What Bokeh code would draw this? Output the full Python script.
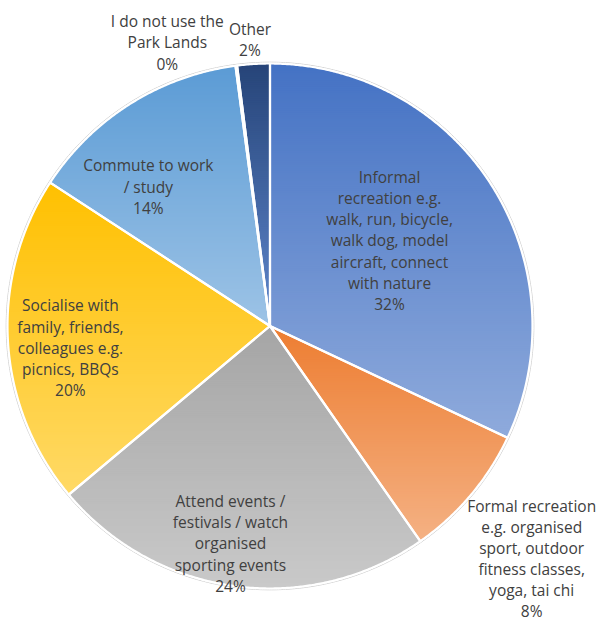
import colorsys
import numpy as np
from bokeh.plotting import figure
from bokeh.models import Range1d, ColumnDataSource
from bokeh.core.properties import value
from bokeh.embed import file_html
from bokeh.resources import INLINE

# ---------------- data ----------------
categories = [
    "Informal\nrecreation e.g.\nwalk, run, bicycle,\nwalk dog, model\naircraft, connect\nwith nature",
    "Formal recreation\ne.g. organised\nsport, outdoor\nfitness classes,\nyoga, tai chi",
    "Attend events /\nfestivals / watch\norganised\nsporting events",
    "Socialise with\nfamily, friends,\ncolleagues e.g.\npicnics, BBQs",
    "Commute to work\n/ study",
    "I do not use the\nPark Lands",
    "Other",
]
shares = [32.0, 8.3, 23.6, 20.3, 13.7, 0.1, 2.0]
base_colors = ["#4472C4", "#ED7D31", "#A5A5A5", "#FFC000", "#5B9BD5", "#70AD47", "#264478"]

# label layout (angle clockwise from 12 o'clock, distance as fraction of radius)
label_angle_deg = [54.4, 131.6, 190.3, 263.8, 318.9, 340.1, 356.0]
label_radius_frac = [0.56, 1.333, 0.842, 0.765, 0.705, 1.149, 1.094]

# ---------------- geometry helpers ----------------
R = 262.5
W, H = 600, 621
x0_px, y0_px = 269.5, 325.5  # pie centre position inside the frame (px)


def hex_to_rgb(h):
    h = h.lstrip("#")
    return tuple(int(h[i:i + 2], 16) / 255 for i in (0, 2, 4))


def rgb_to_hex(c):
    return "#%02x%02x%02x" % tuple(int(round(max(0, min(1, v)) * 255)) for v in c)


def tint(c, amount=0.4):
    h, l, s = colorsys.rgb_to_hls(*c)
    return colorsys.hls_to_rgb(h, l + amount * (1 - l), s)


def clip(poly, yc, keep_above):
    out = []
    n = len(poly)
    for i in range(n):
        cx_, cy_ = poly[i]
        px_, py_ = poly[i - 1]
        cin = cy_ >= yc if keep_above else cy_ <= yc
        pin = py_ >= yc if keep_above else py_ <= yc
        if cin:
            if not pin:
                t = (yc - py_) / (cy_ - py_)
                out.append((px_ + t * (cx_ - px_), yc))
            out.append((cx_, cy_))
        elif pin:
            t = (yc - py_) / (cy_ - py_)
            out.append((px_ + t * (cx_ - px_), yc))
    return out


total = sum(shares)
fracs = [s / total for s in shares]
cum = np.concatenate([[0], np.cumsum(fracs)])

band_xs, band_ys, band_cols = [], [], []
out_xs, out_ys = [], []
for i, f in enumerate(fracs):
    a0 = np.pi / 2 - 2 * np.pi * cum[i]
    a1 = np.pi / 2 - 2 * np.pi * cum[i + 1]
    n = max(3, int(abs(a1 - a0) * 180 / np.pi * 3))
    ang = np.linspace(a0, a1, n)
    poly = [(0.0, 0.0)] + [(R * np.cos(a), R * np.sin(a)) for a in ang]
    out_xs.append([p[0] for p in poly])
    out_ys.append([p[1] for p in poly])
    ys = [p[1] for p in poly]
    ymin, ymax = min(ys), max(ys)
    c_top = hex_to_rgb(base_colors[i])
    c_bot = tint(c_top, 0.4)
    step = 2.0
    yb = ymax
    while yb > ymin:
        ya = max(ymin, yb - step)
        piece = clip(clip(poly, ya, True), yb + 0.7, False)
        if len(piece) >= 3:
            t = (ymax - (ya + yb) / 2) / (ymax - ymin if ymax > ymin else 1)
            col = tuple(c_top[k] + t * (c_bot[k] - c_top[k]) for k in range(3))
            band_xs.append([p[0] for p in piece])
            band_ys.append([p[1] for p in piece])
            band_cols.append(rgb_to_hex(col))
        yb = ya

# ---------------- figure ----------------
p = figure(width=W, height=H, output_backend="svg", toolbar_location=None,
           x_range=Range1d(-x0_px, W - x0_px), y_range=Range1d(y0_px - H, y0_px),
           min_border=0, outline_line_color=None, background_fill_color="white",
           border_fill_color="white")
p.axis.visible = False
p.xgrid.visible = False
p.ygrid.visible = False

p.patches(xs=band_xs, ys=band_ys, fill_color=band_cols, line_color=None)

# faint outer rim
ring = np.linspace(0, 2 * np.pi, 720)
p.line(x=(R + 1.3) * np.cos(ring), y=(R + 1.3) * np.sin(ring), line_color="#CFCFCF", line_width=1)

# white slice borders
p.patches(xs=out_xs, ys=out_ys, fill_color=None, line_color="white", line_width=2.2, line_join="round")

# labels
lx, ly, lt = [], [], []
for i, name in enumerate(categories):
    a = np.deg2rad(label_angle_deg[i])
    r = label_radius_frac[i] * R
    lx.append(r * np.sin(a))
    ly.append(r * np.cos(a))
    lt.append(f"{name}\n{round(shares[i])}%")

src = ColumnDataSource(dict(x=lx, y=ly, text=lt))
p.text(x="x", y="y", text="text", source=src, text_font=value("Open Sans"),
       text_font_size="15.5px", text_color="#404040", text_align="center",
       text_baseline="middle", text_line_height=0.96)

open("out.html", "w").write(file_html(p, INLINE))
